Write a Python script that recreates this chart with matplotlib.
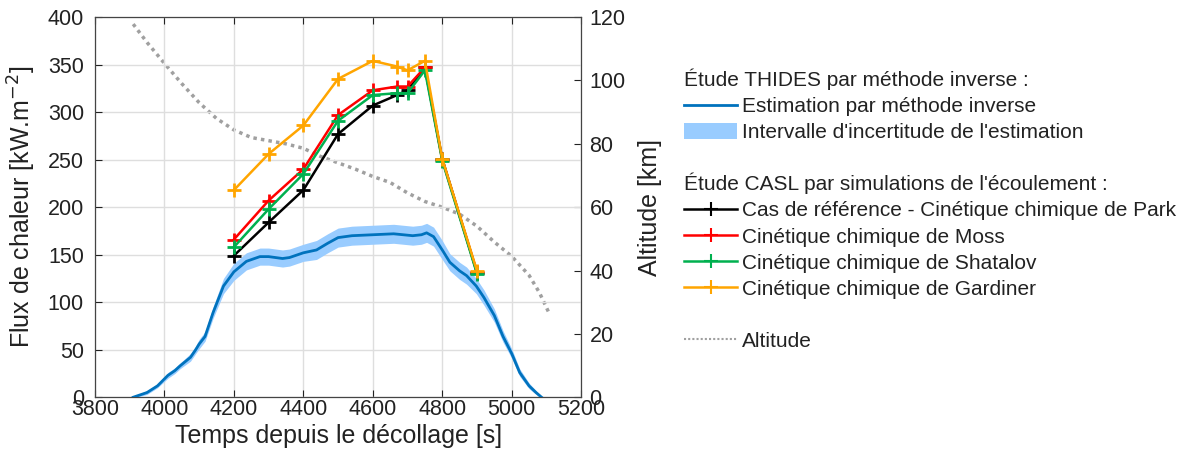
import matplotlib
matplotlib.use("Agg")
import matplotlib.pyplot as plt
from matplotlib.lines import Line2D
from matplotlib.patches import Patch
import matplotlib.text as mtext

plt.rcParams['font.family'] = ['Liberation Sans', 'DejaVu Sans']

# Estimation THIDES (méthode inverse)
t_inv = [3910, 3950, 3980, 4010, 4030, 4045, 4075, 4090, 4100, 4117, 4140, 4170,
         4200, 4236, 4275, 4300, 4320, 4340, 4360, 4400, 4438, 4470, 4500, 4540,
         4600, 4660, 4715, 4740, 4755, 4775, 4800, 4822, 4850, 4870, 4898, 4920,
         4950, 4975, 5000, 5023, 5050, 5070, 5086]
q_inv = [0, 5, 12, 23, 28, 33, 42, 50, 56, 64, 89, 117,
         132, 143, 148, 148, 147, 146, 147, 152, 155, 162, 168, 170,
         171, 172, 170, 171, 173, 169, 155, 142, 133, 128, 117, 105,
         86, 64, 46, 26, 12, 5, 0]
# demi-largeur de l'intervalle d'incertitude
dq_inv = [1, 2, 2, 3, 3, 3, 4, 4, 5, 5, 6, 8,
          9, 9, 9, 9, 9, 9, 9, 9, 10, 10, 10, 10,
          10, 10, 10, 10, 10, 10, 10, 9, 9, 9, 8, 8,
          7, 6, 5, 4, 3, 2, 1]

# Etude CASL
t_casl = [4200, 4300, 4400, 4500, 4600, 4670, 4700, 4750, 4800, 4900]
q_park = [149, 184, 218, 277, 307, 318, 323, 347, 251, 131]
q_moss = [166, 207, 240, 297, 323, 327, 327, 347, 250, 132]
q_shatalov = [158, 198, 235, 291, 318, 320, 320, 344, 249, 130]
q_gardiner = [218, 256, 286, 335, 354, 348, 344, 354, 251, 133]

# Altitude
t_alt = [3910, 3950, 4000, 4050, 4100, 4150, 4200, 4250, 4300, 4350, 4400, 4450,
         4500, 4550, 4600, 4650, 4700, 4750, 4800, 4850, 4900, 4950, 5000, 5050,
         5080, 5110]
alt = [117.8, 112, 105.4, 99, 93, 88, 84.4, 82, 81, 80, 78.6, 76,
       74, 72, 69.7, 67.8, 64.5, 61.8, 60, 57.8, 54, 49, 44.5, 38.5,
       33, 26]

c_bleu = '#0072bd'
c_bande = '#99ccff'
c_gris = '#a0a0a0'
c_texte = '#222222'
couleurs = ['black', '#ff0000', '#00b04f', '#ffa500']


class Titre:
    def __init__(self, texte):
        self.texte = texte


class TitreHandler:
    # dessine le texte du titre à la place de la poignée
    def legend_artist(self, legend, orig_handle, fontsize, handlebox):
        t = mtext.Text(0, handlebox.height / 2 - handlebox.ydescent, orig_handle.texte,
                       ha='left', va='center', fontsize=fontsize, color=c_texte)
        handlebox.add_artist(t)
        return t


fig = plt.figure(figsize=(11.8, 4.63), dpi=100)
ax = fig.add_axes([0.0805, 0.142, 0.412, 0.821])
ax2 = ax.twinx()
ax.set_zorder(ax2.get_zorder() + 1)
ax.patch.set_visible(False)

bas = [q - d for q, d in zip(q_inv, dq_inv)]
haut = [q + d for q, d in zip(q_inv, dq_inv)]
ax.fill_between(t_inv, bas, haut, color=c_bande, lw=0, zorder=2)
ax.plot(t_inv, q_inv, color=c_bleu, lw=2, zorder=3)

for q, c in zip([q_park, q_moss, q_shatalov, q_gardiner], couleurs):
    ax.plot(t_casl, q, color=c, lw=1.8, marker='+', ms=10, mew=2, zorder=4)

ax2.plot(t_alt, alt, color=c_gris, lw=2.5, ls=(0, (1, 1.2)))

ax.set_xlim(3800, 5200)
ax.set_ylim(0, 400)
ax2.set_ylim(0, 120)
ax.set_xticks(range(3800, 5201, 200))
ax.set_yticks(range(0, 401, 50))
ax2.set_yticks(range(0, 121, 20))
ax.grid(True, color='#dedede', lw=1)
ax.set_axisbelow(True)
ax.tick_params(direction='in', top=True, labelsize=15.5, colors=c_texte, length=5)
ax.tick_params(axis='x', pad=1)
ax.tick_params(axis='y', pad=8)
ax2.tick_params(direction='in', labelsize=15.5, colors=c_texte, length=5, pad=6)
for s in ax.spines.values():
    s.set_color('#444444')
ax.set_xlabel('Temps depuis le décollage [s]', fontsize=18, color=c_texte, labelpad=3)
ax.set_ylabel('Flux de chaleur [kW.m$^{-2}$]', fontsize=18, color=c_texte, labelpad=7)
ax2.set_ylabel('Altitude [km]', fontsize=18, color=c_texte, labelpad=9)

vide = Line2D([], [], ls='none')
poignees = [
    Titre('Étude THIDES par méthode inverse :'),
    Line2D([], [], color=c_bleu, lw=2),
    Patch(facecolor=c_bande, edgecolor='none'),
    vide,
    Titre("Étude CASL par simulations de l'écoulement :"),
]
poignees += [Line2D([], [], color=c, lw=1.8, marker='+', ms=10, mew=1.5) for c in couleurs]
poignees += [vide, Line2D([], [], color=c_gris, lw=1.5, ls=(0, (1, 1)))]
etiquettes = [' ', 'Estimation par méthode inverse', "Intervalle d'incertitude de l'estimation",
              ' ', ' ',
              'Cas de référence - Cinétique chimique de Park', 'Cinétique chimique de Moss',
              'Cinétique chimique de Shatalov', 'Cinétique chimique de Gardiner',
              ' ', 'Altitude']
fig.legend(poignees, etiquettes, handler_map={Titre: TitreHandler()},
           loc='upper left', bbox_to_anchor=(0.5797, 0.847), frameon=False,
           fontsize=15, borderpad=0, borderaxespad=0, handlelength=2.55,
           handletextpad=0.25, labelspacing=0.33, handleheight=0.8,
           labelcolor=c_texte)

fig.savefig('out.png', dpi=100)
